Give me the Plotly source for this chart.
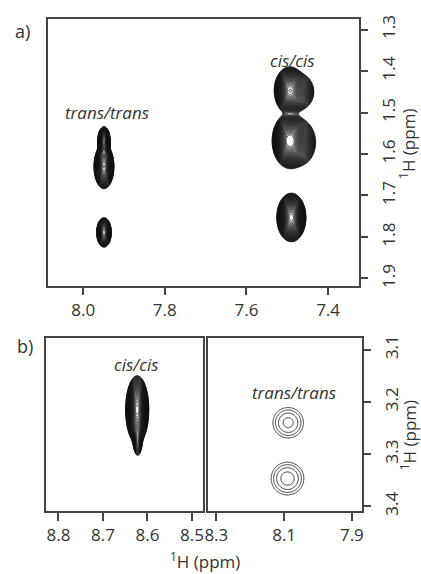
import numpy as np
import plotly.graph_objects as go

# ---------------- data ----------------
# Panel a) cross peaks: centre (F2, F1) in ppm, widths (ppm), relative heights
a_peak_x = [7.949, 7.949, 7.949, 7.494, 7.474, 7.494, 7.472, 7.490]
a_peak_y = [1.570, 1.630, 1.789, 1.447, 1.450, 1.568, 1.572, 1.753]
a_width_x = [0.0052, 0.0080, 0.0065, 0.0120, 0.0150, 0.0130, 0.0155, 0.0110]
a_width_y = [0.0120, 0.0175, 0.0127, 0.0180, 0.0170, 0.0200, 0.0210, 0.0180]
a_height = [90, 110, 50, 150, 30, 250, 35, 200]

# Panel b) left (cis/cis)
bl_peak_x = [8.623, 8.622]
bl_peak_y = [3.215, 3.270]
bl_width_x = [0.0080, 0.0045]
bl_width_y = [0.0200, 0.0140]
bl_height = [200, 15]

# Panel b) right (trans/trans)
br_peak_x = [8.088, 8.090]
br_peak_y = [3.240, 3.347]
br_width_x = [0.0210, 0.0218]
br_width_y = [0.0136, 0.0142]
br_height = [9.9, 11.5]

# axes
a_x_range = [8.085, 7.325]
a_x_ticks = [8.0, 7.8, 7.6, 7.4]
a_y_range = [1.917, 1.274]
a_y_ticks = [1.3, 1.4, 1.5, 1.6, 1.7, 1.8, 1.9]
bl_x_range = [8.827, 8.476]
bl_x_ticks = [8.8, 8.7, 8.6, 8.5]
br_x_range = [8.326, 7.871]
br_x_ticks = [8.3, 8.1, 7.9]
b_y_range = [3.409, 3.077]
b_y_ticks = [3.1, 3.2, 3.3, 3.4]

axis_title = "<sup>1</sup>H (ppm)"
labels_a = ["trans/trans", "cis/cis"]
labels_b = ["cis/cis", "trans/trans"]

FONT = "Open Sans"
TXT = "#333333"
AX = "#444444"
W, H = 421, 574


def px(xp):
    return xp / W


def py(yp):
    return 1 - yp / H


def spectrum(xr, yr, pxs, pys, wx, wy, h, nx, ny):
    x = np.linspace(min(xr), max(xr), nx)
    y = np.linspace(min(yr), max(yr), ny)
    X, Y = np.meshgrid(x, y)
    Z = np.zeros_like(X)
    for x0, y0, sx, sy, a in zip(pxs, pys, wx, wy, h):
        Z += a * np.exp(-0.5 * ((X - x0) / sx) ** 2 - 0.5 * ((Y - y0) / sy) ** 2)
    return x, y, np.log10(Z + 1e-4)


black = [[0, "#111111"], [1, "#111111"]]

fig = go.Figure()

x, y, z = spectrum(a_x_range, a_y_range, a_peak_x, a_peak_y, a_width_x, a_width_y, a_height, 460, 360)
fig.add_trace(go.Contour(x=x, y=y, z=z, xaxis="x", yaxis="y", colorscale=black, showscale=False,
                         contours=dict(coloring="lines", start=0, end=2.35, size=0.055),
                         line=dict(width=0.8), hoverinfo="skip"))

x, y, z = spectrum(bl_x_range, b_y_range, bl_peak_x, bl_peak_y, bl_width_x, bl_width_y, bl_height, 260, 300)
fig.add_trace(go.Contour(x=x, y=y, z=z, xaxis="x2", yaxis="y2", colorscale=black, showscale=False,
                         contours=dict(coloring="lines", start=0, end=2.28, size=0.055),
                         line=dict(width=0.8), hoverinfo="skip"))

x, y, z = spectrum(br_x_range, b_y_range, br_peak_x, br_peak_y, br_width_x, br_width_y, br_height, 300, 300)
fig.add_trace(go.Contour(x=x, y=y, z=z, xaxis="x3", yaxis="y3",
                         colorscale=[[0, "#333333"], [1, "#333333"]], showscale=False,
                         contours=dict(coloring="lines", start=0, end=0.9, size=0.296),
                         line=dict(width=1.0), hoverinfo="skip"))


def axis(domain, anchor, rng, ticks, side=None, show=True, angle=None, standoff=None):
    d = dict(domain=domain, anchor=anchor, range=rng, showgrid=False, zeroline=False,
             showline=True, linecolor=AX, linewidth=1.5, mirror=True, fixedrange=True,
             tickfont=dict(family=FONT, size=17, color=TXT))
    if show:
        d.update(tickvals=ticks, ticktext=["%.1f" % t for t in ticks], ticks="outside",
                 ticklen=8, tickwidth=1.5, tickcolor=AX)
    else:
        d.update(showticklabels=False, ticks="")
    if side:
        d["side"] = side
    if angle is not None:
        d["tickangle"] = angle
    if standoff is not None:
        d["ticklabelstandoff"] = standoff
    return d


fig.update_layout(
    width=W, height=H, margin=dict(l=0, r=0, t=0, b=0),
    plot_bgcolor="white", paper_bgcolor="white", showlegend=False,
    font=dict(family=FONT, color=TXT),
    xaxis=axis([px(46), px(360)], "y", a_x_range, a_x_ticks),
    yaxis=axis([py(286), py(15)], "x", a_y_range, a_y_ticks, side="right", angle=-90, standoff=6),
    xaxis2=axis([px(44), px(202)], "y2", bl_x_range, bl_x_ticks),
    yaxis2=axis([py(515), py(339)], "x2", b_y_range, b_y_ticks, show=False),
    xaxis3=axis([px(207), px(363)], "y3", br_x_range, br_x_ticks),
    yaxis3=axis([py(515), py(339)], "x3", b_y_range, b_y_ticks, side="right", angle=-90, standoff=6),
)

C = dict(xanchor="center", yanchor="middle", showarrow=False)
ann = []
ann.append(dict(text="a)", x=px(20), y=py(27), xref="paper", yref="paper",
                font=dict(size=18, family=FONT, color=TXT), **C))
ann.append(dict(text="b)", x=px(22), y=py(347), xref="paper", yref="paper",
                font=dict(size=18, family=FONT, color=TXT), **C))
it = dict(size=17, family=FONT, color=TXT)
ann.append(dict(text="<i>%s</i>" % labels_a[0], x=7.942, y=1.499, xref="x", yref="y", font=it, **C))
ann.append(dict(text="<i>%s</i>" % labels_a[1], x=7.487, y=1.3735, xref="x", yref="y", font=it, **C))
ann.append(dict(text="<i>%s</i>" % labels_b[0], x=8.624, y=3.128, xref="x2", yref="y2", font=it, **C))
ann.append(dict(text="<i>%s</i>" % labels_b[1], x=8.071, y=3.183, xref="x3", yref="y3", font=it, **C))
tf = dict(size=17, family=FONT, color=TXT)
ann.append(dict(text=axis_title, x=px(204), y=py(565), xref="paper", yref="paper", font=tf, **C))
ann.append(dict(text=axis_title, x=px(410), y=py(142), xref="paper", yref="paper",
                textangle=-90, font=tf, **C))
ann.append(dict(text=axis_title, x=px(410), y=py(438), xref="paper", yref="paper",
                textangle=-90, font=tf, **C))
fig.update_layout(annotations=ann)

fig.write_html("out.html", config={"displayModeBar": False},
               post_script="document.body.style.margin='0';document.body.style.overflow='hidden';")
